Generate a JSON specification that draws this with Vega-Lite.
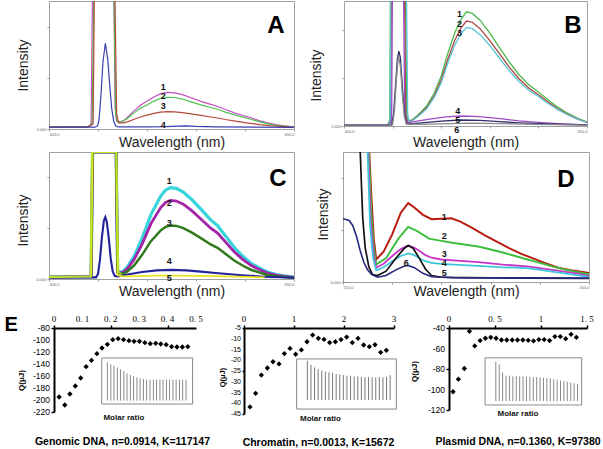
{
"$schema": "https://vega.github.io/schema/vega-lite/v6.json",
"padding": {"left": 4, "top": 0, "right": 0, "bottom": 0},
"background": "white",
"config": {"font": "Liberation Sans", "view": {"stroke": "#a0a0a0", "strokeWidth": 1}, "axis": {"grid": false, "labelOverlap": false}},
"datasets": {
"a": [
{"c":"1","w":400,"v":8},{"c":"1","w":430,"v":8},{"c":"1","w":440,"v":9},{"c":"1","w":443,"v":20},{"c":"1","w":444.5,"v":600},{"c":"1","w":466,"v":600},{"c":"1","w":467.5,"v":80},{"c":"1","w":469,"v":30},{"c":"1","w":472,"v":28},{"c":"1","w":476,"v":32},{"c":"1","w":480,"v":45},{"c":"1","w":487,"v":72},{"c":"1","w":494,"v":95},{"c":"1","w":500,"v":108},{"c":"1","w":507,"v":125},{"c":"1","w":514,"v":138},{"c":"1","w":521,"v":143},{"c":"1","w":528,"v":141},{"c":"1","w":536,"v":134},{"c":"1","w":545,"v":122},{"c":"1","w":555,"v":108},{"c":"1","w":565,"v":96},{"c":"1","w":572,"v":88},{"c":"1","w":580,"v":76},{"c":"1","w":590,"v":62},{"c":"1","w":600,"v":50},{"c":"1","w":606,"v":44},{"c":"1","w":615,"v":32},{"c":"1","w":625,"v":22},{"c":"1","w":633,"v":16},{"c":"1","w":640,"v":12},{"c":"1","w":650,"v":8},
{"c":"2","w":400,"v":8},{"c":"2","w":440,"v":9},{"c":"2","w":444,"v":20},{"c":"2","w":446,"v":600},{"c":"2","w":466,"v":600},{"c":"2","w":468,"v":60},{"c":"2","w":470,"v":28},{"c":"2","w":474,"v":28},{"c":"2","w":480,"v":41},{"c":"2","w":487,"v":64},{"c":"2","w":494,"v":83},{"c":"2","w":500,"v":94},{"c":"2","w":507,"v":109},{"c":"2","w":514,"v":120},{"c":"2","w":521,"v":124},{"c":"2","w":528,"v":123},{"c":"2","w":536,"v":117},{"c":"2","w":545,"v":106},{"c":"2","w":555,"v":94},{"c":"2","w":565,"v":84},{"c":"2","w":572,"v":77},{"c":"2","w":580,"v":66},{"c":"2","w":590,"v":54},{"c":"2","w":600,"v":44},{"c":"2","w":606,"v":38},{"c":"2","w":615,"v":28},{"c":"2","w":625,"v":19},{"c":"2","w":633,"v":14},{"c":"2","w":640,"v":11},{"c":"2","w":650,"v":8},
{"c":"3","w":400,"v":7},{"c":"3","w":440,"v":8},{"c":"3","w":445,"v":20},{"c":"3","w":446.5,"v":600},{"c":"3","w":467,"v":600},{"c":"3","w":469,"v":60},{"c":"3","w":471,"v":24},{"c":"3","w":476,"v":24},{"c":"3","w":480,"v":28},{"c":"3","w":487,"v":38},{"c":"3","w":494,"v":48},{"c":"3","w":500,"v":54},{"c":"3","w":507,"v":61},{"c":"3","w":514,"v":66},{"c":"3","w":521,"v":68},{"c":"3","w":528,"v":67},{"c":"3","w":536,"v":64},{"c":"3","w":545,"v":59},{"c":"3","w":555,"v":53},{"c":"3","w":565,"v":47},{"c":"3","w":572,"v":43},{"c":"3","w":580,"v":37},{"c":"3","w":590,"v":31},{"c":"3","w":600,"v":25},{"c":"3","w":615,"v":17},{"c":"3","w":625,"v":13},{"c":"3","w":640,"v":9},{"c":"3","w":650,"v":7},
{"c":"4","w":400,"v":7},{"c":"4","w":447,"v":7},{"c":"4","w":449.5,"v":12},{"c":"4","w":451,"v":35},{"c":"4","w":453,"v":130},{"c":"4","w":455,"v":260},{"c":"4","w":457.5,"v":335},{"c":"4","w":460,"v":270},{"c":"4","w":462,"v":170},{"c":"4","w":464,"v":80},{"c":"4","w":466,"v":30},{"c":"4","w":468,"v":12},{"c":"4","w":471,"v":8},{"c":"4","w":500,"v":8},{"c":"4","w":520,"v":9},{"c":"4","w":530,"v":11},{"c":"4","w":540,"v":12},{"c":"4","w":550,"v":10},{"c":"4","w":570,"v":8},{"c":"4","w":650,"v":6}
],
"b": [
{"c":"1","w":400,"v":2},{"c":"1","w":445,"v":3},{"c":"1","w":447,"v":15},{"c":"1","w":448,"v":400},{"c":"1","w":463,"v":400},{"c":"1","w":464.5,"v":30},{"c":"1","w":466,"v":12},{"c":"1","w":470,"v":15},{"c":"1","w":475,"v":25},{"c":"1","w":480,"v":37},{"c":"1","w":485,"v":50},{"c":"1","w":493,"v":83},{"c":"1","w":500,"v":125},{"c":"1","w":507,"v":183},{"c":"1","w":514,"v":233},{"c":"1","w":520,"v":265},{"c":"1","w":526,"v":285},{"c":"1","w":532,"v":281},{"c":"1","w":540,"v":264},{"c":"1","w":550,"v":232},{"c":"1","w":561,"v":192},{"c":"1","w":570,"v":160},{"c":"1","w":580,"v":128},{"c":"1","w":590,"v":103},{"c":"1","w":600,"v":85},{"c":"1","w":610,"v":65},{"c":"1","w":620,"v":47},{"c":"1","w":630,"v":32},{"c":"1","w":640,"v":20},{"c":"1","w":650,"v":10},
{"c":"2","w":400,"v":2},{"c":"2","w":446,"v":3},{"c":"2","w":448,"v":15},{"c":"2","w":449,"v":400},{"c":"2","w":462,"v":400},{"c":"2","w":463.5,"v":30},{"c":"2","w":465,"v":12},{"c":"2","w":470,"v":14},{"c":"2","w":475,"v":23},{"c":"2","w":480,"v":34},{"c":"2","w":485,"v":46},{"c":"2","w":493,"v":76},{"c":"2","w":500,"v":115},{"c":"2","w":507,"v":168},{"c":"2","w":514,"v":214},{"c":"2","w":520,"v":244},{"c":"2","w":526,"v":262},{"c":"2","w":532,"v":259},{"c":"2","w":540,"v":243},{"c":"2","w":550,"v":213},{"c":"2","w":561,"v":177},{"c":"2","w":570,"v":147},{"c":"2","w":580,"v":118},{"c":"2","w":590,"v":95},{"c":"2","w":600,"v":78},{"c":"2","w":610,"v":60},{"c":"2","w":620,"v":43},{"c":"2","w":630,"v":29},{"c":"2","w":640,"v":18},{"c":"2","w":650,"v":9},
{"c":"3","w":400,"v":2},{"c":"3","w":446,"v":3},{"c":"3","w":447.5,"v":15},{"c":"3","w":448.5,"v":400},{"c":"3","w":464,"v":400},{"c":"3","w":465.5,"v":30},{"c":"3","w":467,"v":11},{"c":"3","w":470,"v":13},{"c":"3","w":475,"v":22},{"c":"3","w":480,"v":32},{"c":"3","w":485,"v":43},{"c":"3","w":493,"v":72},{"c":"3","w":500,"v":108},{"c":"3","w":507,"v":158},{"c":"3","w":514,"v":202},{"c":"3","w":520,"v":229},{"c":"3","w":526,"v":246},{"c":"3","w":532,"v":243},{"c":"3","w":540,"v":228},{"c":"3","w":550,"v":201},{"c":"3","w":561,"v":166},{"c":"3","w":570,"v":138},{"c":"3","w":580,"v":111},{"c":"3","w":590,"v":89},{"c":"3","w":600,"v":74},{"c":"3","w":610,"v":56},{"c":"3","w":620,"v":41},{"c":"3","w":630,"v":28},{"c":"3","w":640,"v":17},{"c":"3","w":650,"v":9},
{"c":"4","w":400,"v":2},{"c":"4","w":447,"v":3},{"c":"4","w":449,"v":15},{"c":"4","w":450,"v":400},{"c":"4","w":461,"v":400},{"c":"4","w":462.5,"v":30},{"c":"4","w":465,"v":8},{"c":"4","w":475,"v":12},{"c":"4","w":490,"v":18},{"c":"4","w":505,"v":23},{"c":"4","w":520,"v":25},{"c":"4","w":535,"v":24},{"c":"4","w":550,"v":21},{"c":"4","w":565,"v":17},{"c":"4","w":580,"v":13},{"c":"4","w":600,"v":9},{"c":"4","w":620,"v":6},{"c":"4","w":650,"v":3},
{"c":"5","w":400,"v":2},{"c":"5","w":449,"v":3},{"c":"5","w":451,"v":30},{"c":"5","w":453,"v":100},{"c":"5","w":455,"v":170},{"c":"5","w":456.5,"v":187},{"c":"5","w":458,"v":170},{"c":"5","w":460,"v":100},{"c":"5","w":462,"v":35},{"c":"5","w":464,"v":8},{"c":"5","w":466,"v":5},{"c":"5","w":480,"v":8},{"c":"5","w":500,"v":12},{"c":"5","w":520,"v":15},{"c":"5","w":540,"v":14},{"c":"5","w":560,"v":11},{"c":"5","w":580,"v":8},{"c":"5","w":610,"v":5},{"c":"5","w":650,"v":3},
{"c":"6","w":400,"v":2},{"c":"6","w":450,"v":3},{"c":"6","w":452,"v":40},{"c":"6","w":454,"v":120},{"c":"6","w":456,"v":175},{"c":"6","w":458,"v":150},{"c":"6","w":460,"v":80},{"c":"6","w":462,"v":25},{"c":"6","w":464,"v":5},{"c":"6","w":480,"v":4},{"c":"6","w":510,"v":6},{"c":"6","w":530,"v":7},{"c":"6","w":560,"v":6},{"c":"6","w":600,"v":4},{"c":"6","w":650,"v":2}
],
"cc": [
{"c":"1","w":400,"v":15},{"c":"1","w":443,"v":18},{"c":"1","w":444.5,"v":1000},{"c":"1","w":468.5,"v":1000},{"c":"1","w":470,"v":60},{"c":"1","w":473,"v":53},{"c":"1","w":476,"v":62},{"c":"1","w":480,"v":95},{"c":"1","w":487,"v":180},{"c":"1","w":495,"v":320},{"c":"1","w":504,"v":507},{"c":"1","w":514,"v":653},{"c":"1","w":519,"v":700},{"c":"1","w":524,"v":720},{"c":"1","w":530,"v":714},{"c":"1","w":537,"v":685},{"c":"1","w":545,"v":630},{"c":"1","w":555,"v":550},{"c":"1","w":565,"v":465},{"c":"1","w":572,"v":420},{"c":"1","w":580,"v":340},{"c":"1","w":589,"v":250},{"c":"1","w":597,"v":185},{"c":"1","w":606,"v":125},{"c":"1","w":615,"v":85},{"c":"1","w":623,"v":55},{"c":"1","w":632,"v":35},{"c":"1","w":640,"v":24},{"c":"1","w":650,"v":15},
{"c":"2","w":400,"v":15},{"c":"2","w":443,"v":18},{"c":"2","w":444.5,"v":1000},{"c":"2","w":468.5,"v":1000},{"c":"2","w":470,"v":55},{"c":"2","w":473,"v":48},{"c":"2","w":476,"v":55},{"c":"2","w":480,"v":82},{"c":"2","w":487,"v":155},{"c":"2","w":495,"v":275},{"c":"2","w":504,"v":436},{"c":"2","w":514,"v":562},{"c":"2","w":519,"v":602},{"c":"2","w":524,"v":619},{"c":"2","w":530,"v":614},{"c":"2","w":537,"v":589},{"c":"2","w":545,"v":542},{"c":"2","w":555,"v":473},{"c":"2","w":565,"v":400},{"c":"2","w":572,"v":361},{"c":"2","w":580,"v":292},{"c":"2","w":589,"v":215},{"c":"2","w":597,"v":159},{"c":"2","w":606,"v":108},{"c":"2","w":615,"v":73},{"c":"2","w":623,"v":47},{"c":"2","w":632,"v":30},{"c":"2","w":640,"v":21},{"c":"2","w":650,"v":13},
{"c":"3","w":400,"v":15},{"c":"3","w":443,"v":18},{"c":"3","w":444.5,"v":1000},{"c":"3","w":468.5,"v":1000},{"c":"3","w":470,"v":50},{"c":"3","w":473,"v":42},{"c":"3","w":476,"v":45},{"c":"3","w":480,"v":60},{"c":"3","w":487,"v":108},{"c":"3","w":495,"v":190},{"c":"3","w":504,"v":298},{"c":"3","w":514,"v":383},{"c":"3","w":519,"v":410},{"c":"3","w":524,"v":421},{"c":"3","w":530,"v":418},{"c":"3","w":537,"v":401},{"c":"3","w":545,"v":369},{"c":"3","w":555,"v":322},{"c":"3","w":565,"v":272},{"c":"3","w":572,"v":246},{"c":"3","w":580,"v":199},{"c":"3","w":589,"v":146},{"c":"3","w":597,"v":108},{"c":"3","w":606,"v":73},{"c":"3","w":615,"v":50},{"c":"3","w":623,"v":32},{"c":"3","w":632,"v":21},{"c":"3","w":640,"v":15},{"c":"3","w":650,"v":10},
{"c":"4","w":400,"v":13},{"c":"4","w":448,"v":13},{"c":"4","w":450,"v":40},{"c":"4","w":452,"v":150},{"c":"4","w":454,"v":330},{"c":"4","w":456,"v":460},{"c":"4","w":457.5,"v":488},{"c":"4","w":459,"v":450},{"c":"4","w":461,"v":320},{"c":"4","w":463,"v":160},{"c":"4","w":465,"v":60},{"c":"4","w":467,"v":25},{"c":"4","w":470,"v":20},{"c":"4","w":480,"v":35},{"c":"4","w":495,"v":55},{"c":"4","w":510,"v":68},{"c":"4","w":525,"v":72},{"c":"4","w":540,"v":68},{"c":"4","w":555,"v":58},{"c":"4","w":570,"v":47},{"c":"4","w":585,"v":37},{"c":"4","w":600,"v":28},{"c":"4","w":620,"v":18},{"c":"4","w":650,"v":10},
{"c":"5","w":400,"v":15},{"c":"5","w":443,"v":18},{"c":"5","w":444.5,"v":1000},{"c":"5","w":468.5,"v":1000},{"c":"5","w":470,"v":30},{"c":"5","w":475,"v":20},{"c":"5","w":490,"v":23},{"c":"5","w":510,"v":26},{"c":"5","w":530,"v":27},{"c":"5","w":550,"v":25},{"c":"5","w":570,"v":22},{"c":"5","w":590,"v":19},{"c":"5","w":610,"v":15},{"c":"5","w":620,"v":13},
{"c":"e","w":400,"v":20},{"c":"e","w":442,"v":22},{"c":"e","w":443.5,"v":1000},{"c":"e","w":469,"v":1000},{"c":"e","w":471,"v":60},{"c":"e","w":474,"v":35}
],
"d": [
{"c":"1","w":250,"v":600},{"c":"1","w":270,"v":600},{"c":"1","w":271,"v":320},{"c":"1","w":273,"v":200},{"c":"1","w":275,"v":100},{"c":"1","w":277,"v":52},{"c":"1","w":283,"v":70},{"c":"1","w":290,"v":110},{"c":"1","w":297,"v":160},{"c":"1","w":303,"v":182},{"c":"1","w":308,"v":172},{"c":"1","w":315,"v":155},{"c":"1","w":322,"v":145},{"c":"1","w":330,"v":146},{"c":"1","w":338,"v":147},{"c":"1","w":345,"v":140},{"c":"1","w":355,"v":125},{"c":"1","w":365,"v":108},{"c":"1","w":375,"v":93},{"c":"1","w":385,"v":78},{"c":"1","w":395,"v":65},{"c":"1","w":405,"v":54},{"c":"1","w":415,"v":43},{"c":"1","w":425,"v":33},{"c":"1","w":435,"v":27},{"c":"1","w":445,"v":23},{"c":"1","w":450,"v":21},
{"c":"2","w":250,"v":600},{"c":"2","w":269.5,"v":600},{"c":"2","w":271,"v":300},{"c":"2","w":273,"v":160},{"c":"2","w":275,"v":80},{"c":"2","w":277,"v":40},{"c":"2","w":285,"v":55},{"c":"2","w":295,"v":100},{"c":"2","w":303,"v":127},{"c":"2","w":310,"v":118},{"c":"2","w":320,"v":100},{"c":"2","w":330,"v":95},{"c":"2","w":340,"v":90},{"c":"2","w":350,"v":86},{"c":"2","w":360,"v":82},{"c":"2","w":370,"v":75},{"c":"2","w":380,"v":68},{"c":"2","w":390,"v":60},{"c":"2","w":400,"v":52},{"c":"2","w":410,"v":44},{"c":"2","w":420,"v":36},{"c":"2","w":430,"v":29},{"c":"2","w":440,"v":23},{"c":"2","w":450,"v":18},
{"c":"3","w":250,"v":600},{"c":"3","w":269,"v":600},{"c":"3","w":270.5,"v":300},{"c":"3","w":272.5,"v":140},{"c":"3","w":275,"v":60},{"c":"3","w":277,"v":33},{"c":"3","w":283,"v":42},{"c":"3","w":290,"v":60},{"c":"3","w":297,"v":76},{"c":"3","w":303,"v":84},{"c":"3","w":308,"v":79},{"c":"3","w":312,"v":72},{"c":"3","w":317,"v":62},{"c":"3","w":322,"v":56},{"c":"3","w":330,"v":52},{"c":"3","w":340,"v":50},{"c":"3","w":360,"v":46},{"c":"3","w":380,"v":40},{"c":"3","w":400,"v":36},{"c":"3","w":420,"v":28},{"c":"3","w":440,"v":20},{"c":"3","w":450,"v":14},
{"c":"4","w":250,"v":600},{"c":"4","w":268.5,"v":600},{"c":"4","w":270,"v":300},{"c":"4","w":272,"v":130},{"c":"4","w":274.5,"v":55},{"c":"4","w":277,"v":27},{"c":"4","w":283,"v":34},{"c":"4","w":290,"v":48},{"c":"4","w":297,"v":60},{"c":"4","w":303,"v":66},{"c":"4","w":308,"v":62},{"c":"4","w":312,"v":55},{"c":"4","w":317,"v":48},{"c":"4","w":322,"v":44},{"c":"4","w":330,"v":42},{"c":"4","w":340,"v":40},{"c":"4","w":360,"v":37},{"c":"4","w":380,"v":34},{"c":"4","w":400,"v":32},{"c":"4","w":420,"v":24},{"c":"4","w":440,"v":16},{"c":"4","w":450,"v":12},
{"c":"5","w":250,"v":600},{"c":"5","w":263,"v":600},{"c":"5","w":264,"v":300},{"c":"5","w":266,"v":150},{"c":"5","w":268,"v":80},{"c":"5","w":271,"v":35},{"c":"5","w":274,"v":17},{"c":"5","w":278,"v":15},{"c":"5","w":285,"v":25},{"c":"5","w":293,"v":55},{"c":"5","w":300,"v":78},{"c":"5","w":303,"v":84},{"c":"5","w":307,"v":78},{"c":"5","w":312,"v":55},{"c":"5","w":317,"v":30},{"c":"5","w":322,"v":15},{"c":"5","w":330,"v":11},{"c":"5","w":350,"v":10},{"c":"5","w":400,"v":9},{"c":"5","w":450,"v":8},
{"c":"6","w":250,"v":146},{"c":"6","w":255,"v":142},{"c":"6","w":258,"v":130},{"c":"6","w":261,"v":105},{"c":"6","w":264,"v":72},{"c":"6","w":267,"v":45},{"c":"6","w":270,"v":28},{"c":"6","w":273,"v":18},{"c":"6","w":278,"v":11},{"c":"6","w":285,"v":15},{"c":"6","w":293,"v":28},{"c":"6","w":300,"v":37},{"c":"6","w":303,"v":38},{"c":"6","w":308,"v":33},{"c":"6","w":315,"v":20},{"c":"6","w":322,"v":12},{"c":"6","w":340,"v":10},{"c":"6","w":450,"v":9}
],
"e1": [
{"x":0.018,"y":-195},{"x":0.038,"y":-208.3},{"x":0.056,"y":-190},{"x":0.075,"y":-176.7},{"x":0.094,"y":-163.3},{"x":0.113,"y":-144.4},{"x":0.132,"y":-133.9},{"x":0.151,"y":-122.8},{"x":0.169,"y":-113.3},{"x":0.188,"y":-107.2},{"x":0.207,"y":-99.4},{"x":0.226,"y":-97.8},{"x":0.245,"y":-99.4},{"x":0.264,"y":-101.1},{"x":0.282,"y":-102.2},{"x":0.301,"y":-102.2},{"x":0.32,"y":-104.4},{"x":0.339,"y":-106.1},{"x":0.358,"y":-105.6},{"x":0.376,"y":-106.7},{"x":0.395,"y":-107.8},{"x":0.414,"y":-111.1},{"x":0.433,"y":-111.7},{"x":0.452,"y":-111.7},{"x":0.471,"y":-111.1}
],
"e1s": [
{"x":0.188,"top":-137.2},{"x":0.2,"top":-140},{"x":0.211,"top":-142.8},{"x":0.223,"top":-145.6},{"x":0.234,"top":-148.9},{"x":0.246,"top":-152.2},{"x":0.257,"top":-155.6},{"x":0.269,"top":-158.3},{"x":0.28,"top":-160.6},{"x":0.292,"top":-162.2},{"x":0.303,"top":-163.9},{"x":0.315,"top":-165},{"x":0.326,"top":-166.1},{"x":0.338,"top":-166.1},{"x":0.35,"top":-166.1},{"x":0.361,"top":-166.1},{"x":0.373,"top":-166.1},{"x":0.384,"top":-166.1},{"x":0.396,"top":-166.1},{"x":0.407,"top":-166.1},{"x":0.419,"top":-166.1},{"x":0.43,"top":-166.1},{"x":0.442,"top":-166.1},{"x":0.453,"top":-166.1},{"x":0.465,"top":-166.1}
],
"e2": [
{"x":0.12,"y":-41.7},{"x":0.233,"y":-35.4},{"x":0.347,"y":-26.9},{"x":0.467,"y":-23.6},{"x":0.58,"y":-20.7},{"x":0.7,"y":-21.7},{"x":0.807,"y":-16.9},{"x":0.92,"y":-14.5},{"x":1.033,"y":-17.2},{"x":1.147,"y":-15.2},{"x":1.26,"y":-11.4},{"x":1.373,"y":-8.3},{"x":1.487,"y":-9.8},{"x":1.6,"y":-10.3},{"x":1.713,"y":-11.8},{"x":1.827,"y":-11.4},{"x":1.94,"y":-10.4},{"x":2.053,"y":-9.2},{"x":2.167,"y":-11.8},{"x":2.28,"y":-9.8},{"x":2.393,"y":-12.9},{"x":2.507,"y":-13.7},{"x":2.62,"y":-12.8},{"x":2.733,"y":-16.3},{"x":2.847,"y":-15.4}
],
"e2s": [
{"x":1.267,"top":-20.2},{"x":1.339,"top":-22.2},{"x":1.411,"top":-23.3},{"x":1.483,"top":-24.1},{"x":1.555,"top":-24.8},{"x":1.627,"top":-25.3},{"x":1.699,"top":-25.6},{"x":1.771,"top":-25.9},{"x":1.843,"top":-26.4},{"x":1.915,"top":-26.6},{"x":1.987,"top":-26.9},{"x":2.059,"top":-27.2},{"x":2.131,"top":-27.2},{"x":2.203,"top":-27.5},{"x":2.275,"top":-27.5},{"x":2.347,"top":-27.7},{"x":2.419,"top":-27.8},{"x":2.491,"top":-27.8},{"x":2.563,"top":-28},{"x":2.635,"top":-28},{"x":2.707,"top":-27.8},{"x":2.779,"top":-28},{"x":2.851,"top":-27.7},{"x":2.923,"top":-26.9}
],
"e3": [
{"x":0.044,"y":-102.2},{"x":0.102,"y":-89.9},{"x":0.167,"y":-79.5},{"x":0.222,"y":-43.2},{"x":0.28,"y":-57.5},{"x":0.338,"y":-52.3},{"x":0.396,"y":-50},{"x":0.454,"y":-49.1},{"x":0.512,"y":-50},{"x":0.57,"y":-51.7},{"x":0.628,"y":-51.7},{"x":0.687,"y":-51.7},{"x":0.745,"y":-51.7},{"x":0.803,"y":-51.7},{"x":0.861,"y":-52},{"x":0.919,"y":-52.6},{"x":0.977,"y":-51.3},{"x":1.035,"y":-51.3},{"x":1.093,"y":-52.3},{"x":1.151,"y":-48.4},{"x":1.21,"y":-48.4},{"x":1.268,"y":-50.4},{"x":1.326,"y":-46.2},{"x":1.384,"y":-49.1}
],
"e3s": [
{"x":0.509,"top":-73},{"x":0.546,"top":-75.6},{"x":0.583,"top":-83.4},{"x":0.62,"top":-86.6},{"x":0.657,"top":-86.6},{"x":0.694,"top":-87},{"x":0.731,"top":-87},{"x":0.768,"top":-87.3},{"x":0.805,"top":-87.3},{"x":0.842,"top":-87.6},{"x":0.879,"top":-87.6},{"x":0.916,"top":-87.9},{"x":0.953,"top":-87.9},{"x":0.99,"top":-88.3},{"x":1.027,"top":-88.6},{"x":1.064,"top":-88.9},{"x":1.101,"top":-89.2},{"x":1.138,"top":-89.9},{"x":1.175,"top":-90.5},{"x":1.212,"top":-91.2},{"x":1.249,"top":-91.8},{"x":1.286,"top":-92.5},{"x":1.323,"top":-93.1},{"x":1.36,"top":-93.8},{"x":1.397,"top":-94.4}
]
},
"spacing": 15,
"resolve": {"scale": {"color": "independent", "strokeWidth": "independent"}},
"vconcat": [
{
"spacing": 1,
"resolve": {"scale": {"color": "independent", "strokeWidth": "independent"}},
"vconcat": [
{
"bounds": "flush",
"spacing": 50,
"resolve": {"scale": {"color": "independent", "strokeWidth": "independent"}},
"hconcat": [
{
"width": 245, "height": 128,
"layer": [
{"data": {"name": "a"}, "mark": {"type": "line", "clip": true, "strokeWidth": 1.2},
"encoding": {
"x": {"field": "w", "type": "quantitative", "scale": {"domain": [400, 650], "nice": false, "zero": false},
"axis": {"title": "Wavelength (nm)", "values": [400,425,450,475,500,525,550,575,600,625,650], "labelExpr": "(datum.value==400||datum.value==525||datum.value==650)?format(datum.value,'.1f'):''", "labelFontSize": 4, "labelColor": "#666", "labelOverlap": false, "tickSize": 2, "tickColor": "#999", "domain": false, "labelPadding": 1, "titleFontSize": 14, "titleFontWeight": "normal", "titleColor": "#222", "titleY": 13, "titleBaseline": "middle"}},
"y": {"field": "v", "type": "quantitative", "scale": {"domain": [0, 500], "nice": false, "zero": false},
"axis": {"title": "Intensity", "values": [0,50,100,150,200,250,300,350,400,450,500], "labelExpr": "(datum.value==0||datum.value==250||datum.value==500)?format(datum.value,'.3f'):''", "labelFontSize": 4, "labelColor": "#666", "labelOverlap": false, "tickSize": 2, "tickColor": "#999", "domain": false, "labelPadding": 1, "titleFontSize": 14, "titleFontWeight": "normal", "titleColor": "#222", "titleX": -26, "titleY": 64, "titleAngle": -90, "titleAlign": "center", "titleBaseline": "middle"}},
"color": {"field": "c", "type": "nominal", "scale": {"domain": ["1","2","3","4"], "range": ["#c24fc2","#4dbf4d","#b44a3c","#3a3fb0"]}, "legend": null}
}},
{"data": {"values": [{"t":"1","w":516.6,"v":165},{"t":"2","w":516.6,"v":128},{"t":"3","w":516.6,"v":88},{"t":"4","w":516.6,"v":17}]},
"mark": {"type": "text", "fontWeight": "bold", "fontSize": 9, "color": "#111"},
"encoding": {"x": {"field": "w", "type": "quantitative"}, "y": {"field": "v", "type": "quantitative"}, "text": {"field": "t"}}},
{"data": {"values": [{}]}, "mark": {"type": "text", "text": "A", "fontWeight": "bold", "fontSize": 24, "color": "#000"},
"encoding": {"x": {"datum": 631.6, "type": "quantitative"}, "y": {"datum": 402, "type": "quantitative"}}}
]
},
{
"width": 243, "height": 125,
"layer": [
{"data": {"name": "b"}, "mark": {"type": "line", "clip": true, "strokeWidth": 1.3},
"encoding": {
"x": {"field": "w", "type": "quantitative", "scale": {"domain": [400, 650], "nice": false, "zero": false},
"axis": {"title": "Wavelength (nm)", "values": [400,425,450,475,500,525,550,575,600,625,650], "labelExpr": "(datum.value==400||datum.value==525||datum.value==650)?format(datum.value,'.1f'):''", "labelFontSize": 4, "labelColor": "#666", "labelOverlap": false, "tickSize": 2, "tickColor": "#999", "domain": false, "labelPadding": 1, "titleFontSize": 14, "titleFontWeight": "normal", "titleColor": "#222", "titleY": 16, "titleBaseline": "middle"}},
"y": {"field": "v", "type": "quantitative", "scale": {"domain": [0, 312], "nice": false, "zero": false},
"axis": {"title": "Intensity", "values": [0,30,60,90,120,150,180,210,240,270,300], "labelExpr": "(datum.value==0||datum.value==150||datum.value==300)?format(datum.value,'.3f'):''", "labelFontSize": 4, "labelColor": "#666", "labelOverlap": false, "tickSize": 2, "tickColor": "#999", "domain": false, "labelPadding": 1, "titleFontSize": 14, "titleFontWeight": "normal", "titleColor": "#222", "titleX": -28, "titleY": 74, "titleAngle": -90, "titleAlign": "center", "titleBaseline": "middle"}},
"color": {"field": "c", "type": "nominal", "scale": {"domain": ["1","2","3","4","5","6"], "range": ["#4cb84c","#a8453f","#5cc6d6","#a04cc8","#2e2e6e","#8a8a8a"]}, "legend": null}
}},
{"data": {"values": [{"t":"1","w":518.8,"v":279},{"t":"2","w":518.8,"v":254},{"t":"3","w":518.8,"v":231},{"t":"4","w":517,"v":38},{"t":"5","w":517,"v":15},{"t":"6","w":516,"v":-10}]},
"mark": {"type": "text", "fontWeight": "bold", "fontSize": 9, "color": "#111"},
"encoding": {"x": {"field": "w", "type": "quantitative"}, "y": {"field": "v", "type": "quantitative"}, "text": {"field": "t"}}},
{"data": {"values": [{}]}, "mark": {"type": "text", "text": "B", "fontWeight": "bold", "fontSize": 24, "color": "#000"},
"encoding": {"x": {"datum": 635.6, "type": "quantitative"}, "y": {"datum": 250, "type": "quantitative"}}}
]
}
]
},
{
"bounds": "flush",
"spacing": 49,
"resolve": {"scale": {"color": "independent", "strokeWidth": "independent"}},
"hconcat": [
{
"width": 245, "height": 127,
"layer": [
{"data": {"name": "cc"}, "mark": {"type": "line", "clip": true},
"encoding": {
"x": {"field": "w", "type": "quantitative", "scale": {"domain": [400, 650], "nice": false, "zero": false},
"axis": {"title": "Wavelength (nm)", "values": [400,425,450,475,500,525,550,575,600,625,650], "labelExpr": "(datum.value==400||datum.value==525||datum.value==650)?format(datum.value,'.1f'):''", "labelFontSize": 4, "labelColor": "#666", "labelOverlap": false, "tickSize": 2, "tickColor": "#999", "domain": false, "labelPadding": 1, "titleFontSize": 14, "titleFontWeight": "normal", "titleColor": "#222", "titleY": 12, "titleBaseline": "middle"}},
"y": {"field": "v", "type": "quantitative", "scale": {"domain": [0, 1000], "nice": false, "zero": false},
"axis": {"title": "Intensity", "values": [0,100,200,300,400,500,600,700,800,900,1000], "labelExpr": "(datum.value==0||datum.value==500||datum.value==1000)?format(datum.value,'.3f'):''", "labelFontSize": 4, "labelColor": "#666", "labelOverlap": false, "tickSize": 2, "tickColor": "#999", "domain": false, "labelPadding": 1, "titleFontSize": 14, "titleFontWeight": "normal", "titleColor": "#222", "titleX": -26, "titleY": 68, "titleAngle": -90, "titleAlign": "center", "titleBaseline": "middle"}},
"color": {"field": "c", "type": "nominal", "scale": {"domain": ["1","2","3","4","5","e"], "range": ["#38d4dc","#a324a8","#2f7a1c","#23249a","#e8e41c","#b4e034"]}, "legend": null},
"strokeWidth": {"field": "c", "type": "nominal", "scale": {"domain": ["1","2","3","4","5","e"], "range": [3.2,1.4,1.6,1.4,2.2,2]}, "legend": null}
}},
{"data": {"values": [{"t":"1","w":522.8,"v":773},{"t":"2","w":522.8,"v":600},{"t":"3","w":522.8,"v":440},{"t":"4","w":522.8,"v":139},{"t":"5","w":522.8,"v":5}]},
"mark": {"type": "text", "fontWeight": "bold", "fontSize": 9, "color": "#111"},
"encoding": {"x": {"field": "w", "type": "quantitative"}, "y": {"field": "v", "type": "quantitative"}, "text": {"field": "t"}}},
{"data": {"values": [{}]}, "mark": {"type": "text", "text": "C", "fontWeight": "bold", "fontSize": 24, "color": "#000"},
"encoding": {"x": {"datum": 633.7, "type": "quantitative"}, "y": {"datum": 784, "type": "quantitative"}}}
]
},
{
"width": 246, "height": 130,
"layer": [
{"data": {"name": "d"}, "mark": {"type": "line", "clip": true},
"encoding": {
"x": {"field": "w", "type": "quantitative", "scale": {"domain": [250, 450], "nice": false, "zero": false},
"axis": {"title": "Wavelength (nm)", "values": [250,270,290,310,330,350,370,390,410,430,450], "labelExpr": "(datum.value==250||datum.value==350||datum.value==450)?format(datum.value,'.1f'):''", "labelFontSize": 4, "labelColor": "#666", "labelOverlap": false, "tickSize": 2, "tickColor": "#999", "domain": false, "labelPadding": 1, "titleFontSize": 14, "titleFontWeight": "normal", "titleColor": "#222", "titleY": 9, "titleBaseline": "middle"}},
"y": {"field": "v", "type": "quantitative", "scale": {"domain": [0, 300], "nice": false, "zero": false},
"axis": {"title": "Intensity", "values": [0,30,60,90,120,150,180,210,240,270,300], "labelExpr": "(datum.value==0||datum.value==150||datum.value==300)?format(datum.value,'.3f'):''", "labelFontSize": 4, "labelColor": "#666", "labelOverlap": false, "tickSize": 2, "tickColor": "#999", "domain": false, "labelPadding": 1, "titleFontSize": 14, "titleFontWeight": "normal", "titleColor": "#222", "titleX": -20, "titleY": 62, "titleAngle": -90, "titleAlign": "center", "titleBaseline": "middle"}},
"color": {"field": "c", "type": "nominal", "scale": {"domain": ["1","2","3","4","5","6"], "range": ["#b81c10","#3cbf3c","#c834c8","#3cc8d8","#111111","#26267e"]}, "legend": null},
"strokeWidth": {"field": "c", "type": "nominal", "scale": {"domain": ["1","2","3","4","5","6"], "range": [2,1.6,1.5,1.5,1.3,1.8]}, "legend": null}
}},
{"data": {"values": [{"t":"1","w":332.4,"v":151},{"t":"2","w":332.4,"v":107},{"t":"3","w":332.4,"v":65},{"t":"4","w":332.4,"v":43},{"t":"5","w":332.4,"v":21},{"t":"6","w":301.4,"v":44}]},
"mark": {"type": "text", "fontWeight": "bold", "fontSize": 9, "color": "#111"},
"encoding": {"x": {"field": "w", "type": "quantitative"}, "y": {"field": "v", "type": "quantitative"}, "text": {"field": "t"}}},
{"data": {"values": [{}]}, "mark": {"type": "text", "text": "D", "fontWeight": "bold", "fontSize": 24, "color": "#000"},
"encoding": {"x": {"datum": 431.3, "type": "quantitative"}, "y": {"datum": 236, "type": "quantitative"}}}
]
}
]
}
]
},
{
"bounds": "flush",
"spacing": 48,
"hconcat": [
{
"width": 147, "height": 84, "view": {"stroke": null},
"title": {"text": "Genomic DNA, n=0.0914, K=117147", "orient": "bottom", "frame": "group", "offset": 15, "fontSize": 10.5, "fontWeight": "bold", "anchor": "middle", "color": "#000", "font": "Liberation Sans"},
"layer": [
{"data": {"name": "e1"}, "mark": {"type": "point", "shape": "diamond", "filled": true, "color": "#000", "size": 28, "opacity": 1},
"encoding": {
"x": {"field": "x", "type": "quantitative", "scale": {"domain": [0, 0.5], "range": [5, 147], "nice": false, "zero": false},
"axis": {"orient": "top", "title": null, "values": [0,0.1,0.2,0.3,0.4,0.5], "labels": false, "domainColor": "#000", "domainWidth": 2, "tickColor": "#000", "tickWidth": 1.5, "tickSize": 3}},
"y": {"field": "y", "type": "quantitative", "scale": {"domain": [-220, -80], "nice": false, "zero": false},
"axis": {"title": "Q(μJ)", "offset": -5, "values": [-220,-200,-180,-160,-140,-120,-100,-80], "labels": false, "domainColor": "#000", "domainWidth": 2, "tickColor": "#000", "tickWidth": 1.5, "tickSize": 3, "titleFontSize": 8, "titleFontWeight": "bold", "titleColor": "#000", "titleX": -33, "titleY": 52, "titleAngle": -90, "titleAlign": "center", "titleBaseline": "middle"}}
}},
{"data": {"values": [{}]}, "mark": {"type": "rect", "fill": "white", "stroke": "#888", "strokeWidth": 1},
"encoding": {"x": {"datum": 0.168, "type": "quantitative"}, "x2": {"datum": 0.488}, "y": {"datum": -130, "type": "quantitative"}, "y2": {"datum": -206.7}}},
{"data": {"name": "e1s"}, "mark": {"type": "rule", "color": "#8a8a8a", "strokeWidth": 1},
"encoding": {"x": {"field": "x", "type": "quantitative"}, "y": {"field": "top", "type": "quantitative"}, "y2": {"datum": -201}}},
{"data": {"values": [{"v":-220,"lab":"-220"},{"v":-200,"lab":"-200"},{"v":-180,"lab":"-180"},{"v":-160,"lab":"-160"},{"v":-140,"lab":"-140"},{"v":-120,"lab":"-120"},{"v":-100,"lab":"-100"},{"v":-80,"lab":"-80"}]},
"mark": {"type": "text", "align": "right", "baseline": "middle", "fontSize": 8.5, "color": "#000"},
"encoding": {"x": {"datum": -0.0141, "type": "quantitative"}, "y": {"field": "v", "type": "quantitative"}, "text": {"field": "lab"}}},
{"data": {"values": [{"x":0,"lab":"0"},{"x":0.1,"lab":"0. 1"},{"x":0.2,"lab":"0. 2"},{"x":0.3,"lab":"0. 3"},{"x":0.4,"lab":"0. 4"},{"x":0.5,"lab":"0. 5"}]},
"mark": {"type": "text", "align": "center", "baseline": "middle", "fontSize": 9, "font": "Liberation Serif", "color": "#000"},
"encoding": {"x": {"field": "x", "type": "quantitative"}, "y": {"datum": -65, "type": "quantitative"}, "text": {"field": "lab"}}},
{"data": {"values": [{}]}, "mark": {"type": "text", "text": "Molar ratio", "fontWeight": "bold", "fontSize": 8, "color": "#111"},
"encoding": {"x": {"datum": 0.246, "type": "quantitative"}, "y": {"datum": -229.5, "type": "quantitative"}}},
{"data": {"values": [{}]}, "mark": {"type": "text", "text": "E", "fontWeight": "bold", "fontSize": 20, "color": "#000"},
"encoding": {"x": {"datum": -0.151, "type": "quantitative"}, "y": {"datum": -74.5, "type": "quantitative"}}}
]
},
{
"width": 157, "height": 86, "view": {"stroke": null},
"title": {"text": "Chromatin, n=0.0013, K=15672", "orient": "bottom", "frame": "group", "offset": 15, "fontSize": 10.5, "fontWeight": "bold", "anchor": "middle", "dx": -4, "color": "#000", "font": "Liberation Sans"},
"layer": [
{"data": {"name": "e2"}, "mark": {"type": "point", "shape": "diamond", "filled": true, "color": "#000", "size": 28, "opacity": 1},
"encoding": {
"x": {"field": "x", "type": "quantitative", "scale": {"domain": [0, 3], "range": [0, 150], "nice": false, "zero": false},
"axis": {"orient": "top", "title": null, "values": [0,1,2,3], "labels": false, "domainColor": "#000", "domainWidth": 2, "tickColor": "#000", "tickWidth": 1.5, "tickSize": 3}},
"y": {"field": "y", "type": "quantitative", "scale": {"domain": [-45, -5], "nice": false, "zero": false},
"axis": {"title": "Q(μJ)", "values": [-45,-40,-35,-30,-25,-20,-15,-10,-5], "labels": false, "domainColor": "#000", "domainWidth": 2, "tickColor": "#000", "tickWidth": 1.5, "tickSize": 2, "titleFontSize": 7.5, "titleFontWeight": "bold", "titleColor": "#000", "titleX": -22, "titleY": 49, "titleAngle": -90, "titleAlign": "center", "titleBaseline": "middle"}}
}},
{"data": {"values": [{}]}, "mark": {"type": "rect", "fill": "white", "stroke": "#888", "strokeWidth": 1},
"encoding": {"x": {"datum": 1.053, "type": "quantitative"}, "x2": {"datum": 3.047}, "y": {"datum": -19.4, "type": "quantitative"}, "y2": {"datum": -42.7}}},
{"data": {"name": "e2s"}, "mark": {"type": "rule", "color": "#7a7a7a", "strokeWidth": 1},
"encoding": {"x": {"field": "x", "type": "quantitative"}, "y": {"field": "top", "type": "quantitative"}, "y2": {"datum": -38.5}}},
{"data": {"values": [{"v":-45,"lab":"-45"},{"v":-40,"lab":"-40"},{"v":-35,"lab":"-35"},{"v":-30,"lab":"-30"},{"v":-25,"lab":"-25"},{"v":-20,"lab":"-20"},{"v":-15,"lab":"-15"},{"v":-10,"lab":"-10"},{"v":-5,"lab":"-5"}]},
"mark": {"type": "text", "align": "right", "baseline": "middle", "fontSize": 7, "color": "#000"},
"encoding": {"x": {"datum": -0.06, "type": "quantitative"}, "y": {"field": "v", "type": "quantitative"}, "text": {"field": "lab"}}},
{"data": {"values": [{"x":0,"lab":"0"},{"x":1,"lab":"1"},{"x":2,"lab":"2"},{"x":3,"lab":"3"}]},
"mark": {"type": "text", "align": "center", "baseline": "middle", "fontSize": 9, "font": "Liberation Serif", "color": "#000"},
"encoding": {"x": {"field": "x", "type": "quantitative"}, "y": {"datum": -0.8, "type": "quantitative"}, "text": {"field": "lab"}}},
{"data": {"values": [{}]}, "mark": {"type": "text", "text": "Molar ratio", "fontWeight": "bold", "fontSize": 8, "color": "#111"},
"encoding": {"x": {"datum": 1.53, "type": "quantitative"}, "y": {"datum": -47.3, "type": "quantitative"}}}
]
},
{
"width": 138, "height": 82, "view": {"stroke": null},
"title": {"text": "Plasmid DNA, n=0.1360, K=97380", "orient": "bottom", "frame": "group", "offset": 19, "fontSize": 10.5, "fontWeight": "bold", "anchor": "middle", "color": "#000", "font": "Liberation Sans"},
"layer": [
{"data": {"name": "e3"}, "mark": {"type": "point", "shape": "diamond", "filled": true, "color": "#000", "size": 28, "opacity": 1},
"encoding": {
"x": {"field": "x", "type": "quantitative", "scale": {"domain": [0, 1.5], "nice": false, "zero": false},
"axis": {"orient": "top", "title": null, "values": [0,0.5,1,1.5], "labels": false, "domainColor": "#000", "domainWidth": 2, "tickColor": "#000", "tickWidth": 1.5, "tickSize": 3}},
"y": {"field": "y", "type": "quantitative", "scale": {"domain": [-120, -40], "nice": false, "zero": false},
"axis": {"title": "Q(μJ)", "values": [-120,-100,-80,-60,-40], "labels": false, "domainColor": "#000", "domainWidth": 2, "tickColor": "#000", "tickWidth": 1.5, "tickSize": 3, "titleFontSize": 8, "titleFontWeight": "bold", "titleColor": "#000", "titleX": -35, "titleY": 43, "titleAngle": -90, "titleAlign": "center", "titleBaseline": "middle"}}
}},
{"data": {"values": [{}]}, "mark": {"type": "rect", "fill": "white", "stroke": "#888", "strokeWidth": 1},
"encoding": {"x": {"datum": 0.392, "type": "quantitative"}, "x2": {"datum": 1.442}, "y": {"datum": -69.1, "type": "quantitative"}, "y2": {"datum": -115.1}}},
{"data": {"name": "e3s"}, "mark": {"type": "rule", "color": "#8a8a8a", "strokeWidth": 1},
"encoding": {"x": {"field": "x", "type": "quantitative"}, "y": {"field": "top", "type": "quantitative"}, "y2": {"datum": -111.3}}},
{"data": {"values": [{"v":-120,"lab":"-120"},{"v":-100,"lab":"-100"},{"v":-80,"lab":"-80"},{"v":-60,"lab":"-60"},{"v":-40,"lab":"-40"}]},
"mark": {"type": "text", "align": "right", "baseline": "middle", "fontSize": 8.5, "color": "#000"},
"encoding": {"x": {"datum": -0.0435, "type": "quantitative"}, "y": {"field": "v", "type": "quantitative"}, "text": {"field": "lab"}}},
{"data": {"values": [{"x":0,"lab":"0"},{"x":0.5,"lab":"0. 5"},{"x":1,"lab":"1"},{"x":1.5,"lab":"1. 5"}]},
"mark": {"type": "text", "align": "center", "baseline": "middle", "fontSize": 9, "font": "Liberation Serif", "color": "#000"},
"encoding": {"x": {"field": "x", "type": "quantitative"}, "y": {"datum": -31.2, "type": "quantitative"}, "text": {"field": "lab"}}},
{"data": {"values": [{}]}, "mark": {"type": "text", "text": "Molar ratio", "fontWeight": "bold", "fontSize": 8, "color": "#111"},
"encoding": {"x": {"datum": 0.75, "type": "quantitative"}, "y": {"datum": -124.2, "type": "quantitative"}}}
]
}
]
}
]
}
